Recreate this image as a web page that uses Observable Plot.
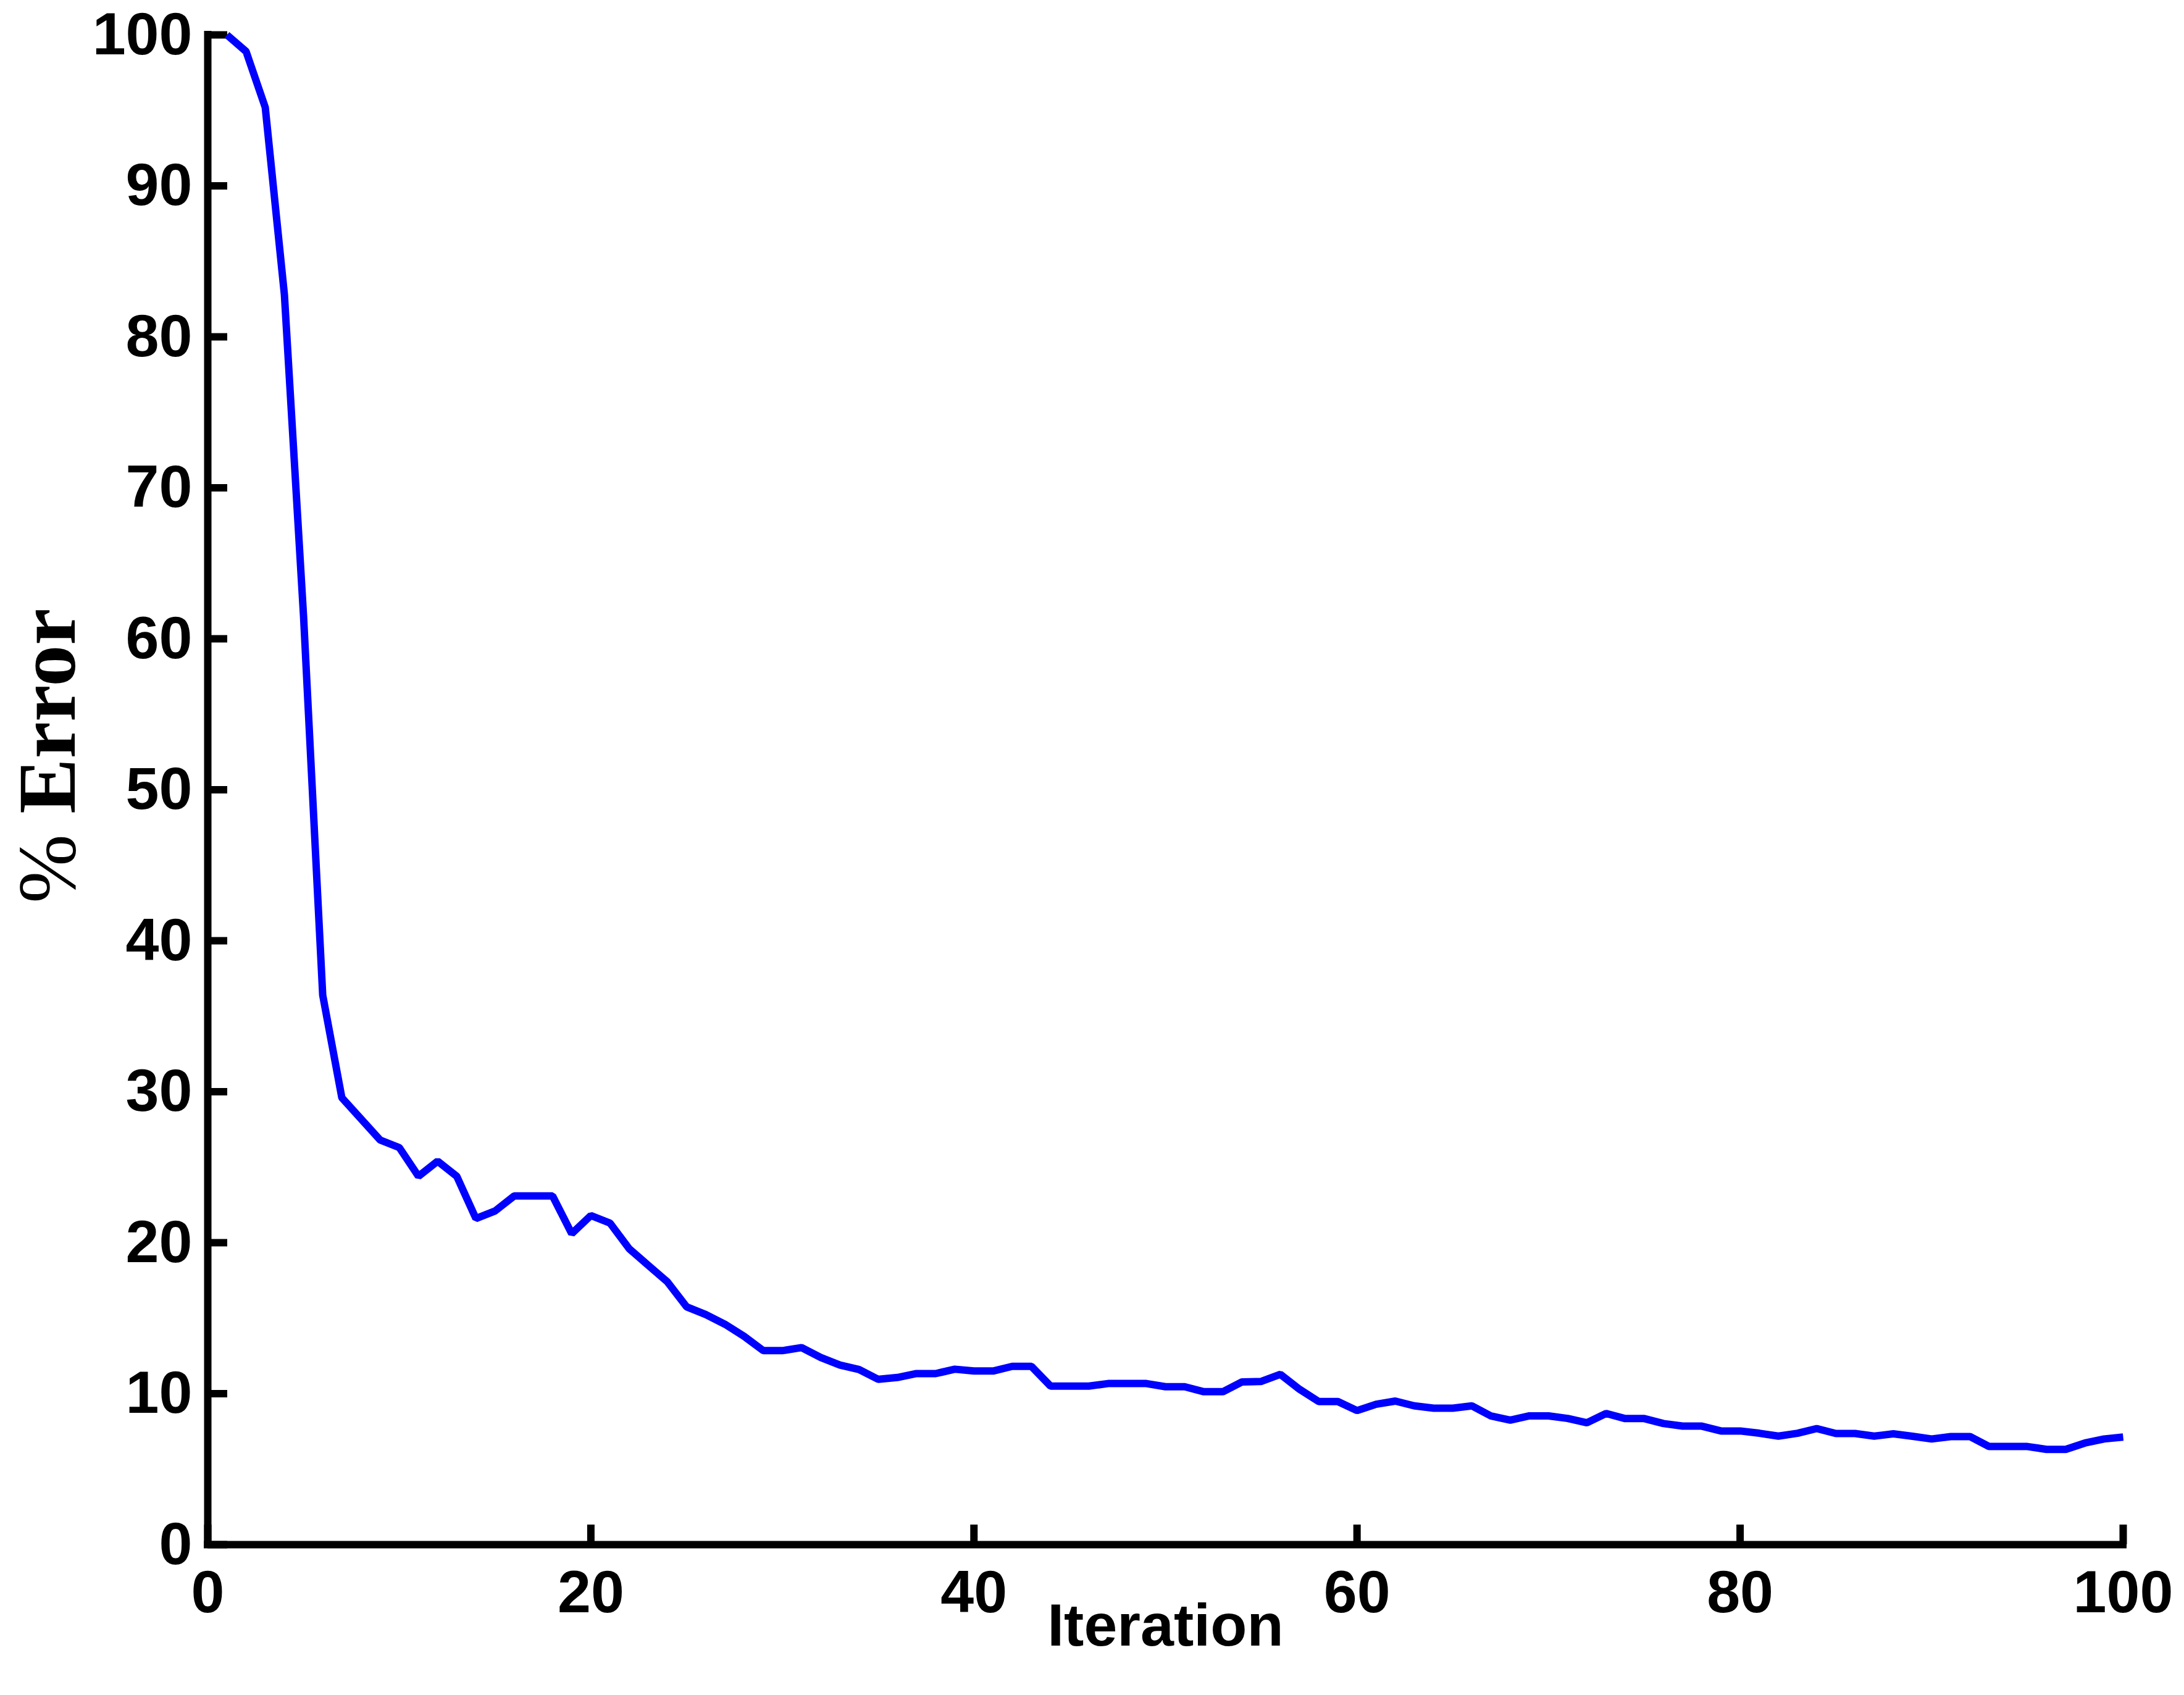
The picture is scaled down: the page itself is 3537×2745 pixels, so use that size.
<!DOCTYPE html>
<html>
<head>
<meta charset="utf-8">
<script src="https://cdn.jsdelivr.net/npm/d3@7"></script>
<script src="https://cdn.jsdelivr.net/npm/@observablehq/plot@0.6"></script>
<style>
  html, body { margin: 0; padding: 0; background: #ffffff; }
  #chart svg { display: block; }
</style>
</head>
<body>
<div id="chart"></div>
<script>
// ---- data ----
const errorPct = [
  100.0, 98.9, 95.2, 82.8, 61.5, 36.4, 29.6, 28.2, 26.8, 26.3,
  24.4, 25.4, 24.4, 21.6, 22.1, 23.1, 23.1, 23.1, 20.6, 21.8,
  21.3, 19.6, 18.5, 17.4, 15.75, 15.24, 14.6, 13.8, 12.85, 12.85,
  13.05, 12.4, 11.9, 11.6, 10.95, 11.07, 11.33, 11.33, 11.62, 11.5,
  11.5, 11.81, 11.81, 10.5, 10.5, 10.5, 10.67, 10.67, 10.67, 10.46,
  10.46, 10.13, 10.13, 10.78, 10.81, 11.28, 10.29, 9.48, 9.48, 8.88,
  9.30, 9.51, 9.19, 9.04, 9.04, 9.19, 8.52, 8.25, 8.53, 8.53,
  8.36, 8.07, 8.69, 8.35, 8.35, 8.02, 7.85, 7.85, 7.53, 7.53,
  7.38, 7.19, 7.38, 7.69, 7.36, 7.36, 7.19, 7.34, 7.18, 7.0,
  7.16, 7.16, 6.5, 6.5, 6.5, 6.31, 6.31, 6.73, 7.0, 7.13
];
const iterations = errorPct.map((_, i) => i + 1);
const xTicks = [0, 20, 40, 60, 80, 100];
const yTicks = [0, 10, 20, 30, 40, 50, 60, 70, 80, 90, 100];
const xLabel = "Iteration";
const yLabelSymbol = "%";
const yLabelWord = "Error";

const data = iterations.map((it, i) => ({iteration: it, error: errorPct[i]}));

const chart = Plot.plot({
  width: 3537,
  height: 2745,
  marginLeft: 336,
  marginRight: 99,
  marginTop: 56,
  marginBottom: 244,
  x: {domain: [0, 100]},
  y: {domain: [0, 100]},
  style: {
    fontFamily: "'Liberation Sans', Arial, Helvetica, sans-serif",
    fontSize: "97px",
    fontWeight: "bold",
    color: "black",
    background: "white"
  },
  marks: [
    Plot.axisX(xTicks, {
      anchor: "bottom", tickSize: -32, tickPadding: 73, strokeWidth: 12,
      tickFormat: d => String(d),
      label: xLabel, labelAnchor: "center", labelOffset: 163, labelArrow: "none"
    }),
    Plot.axisY(yTicks, {
      anchor: "left", tickSize: -32, tickPadding: 57, strokeWidth: 12,
      tickFormat: d => String(d),
      label: yLabelSymbol + " " + yLabelWord, labelAnchor: "center", labelOffset: 311, labelArrow: "none"
    }),
    Plot.line(data, {
      x: "iteration", y: "error",
      stroke: "#0000ff", strokeWidth: 12,
      strokeLinecap: "butt", strokeLinejoin: "miter"
    }),
    Plot.ruleX([0], {stroke: "black", strokeWidth: 12, strokeLinecap: "square"}),
    Plot.ruleY([0], {stroke: "black", strokeWidth: 12, strokeLinecap: "square"})
  ]
});

// style the y-axis title: regular "%" followed by bold serif "Error"
const ylab = d3.select(chart).select('g[aria-label="y-axis label"] text');
if (!ylab.empty()) {
  ylab.text(null)
    .attr("font-family", "'Liberation Serif', 'DejaVu Serif', 'Times New Roman', serif")
    .attr("font-size", 134)
    .attr("dx", 55);
  ylab.append("tspan").attr("font-weight", "normal").text(yLabelSymbol);
  ylab.append("tspan").attr("font-weight", "bold").text("\u00a0" + yLabelWord);
}

document.getElementById("chart").appendChild(chart);
</script>
</body>
</html>
